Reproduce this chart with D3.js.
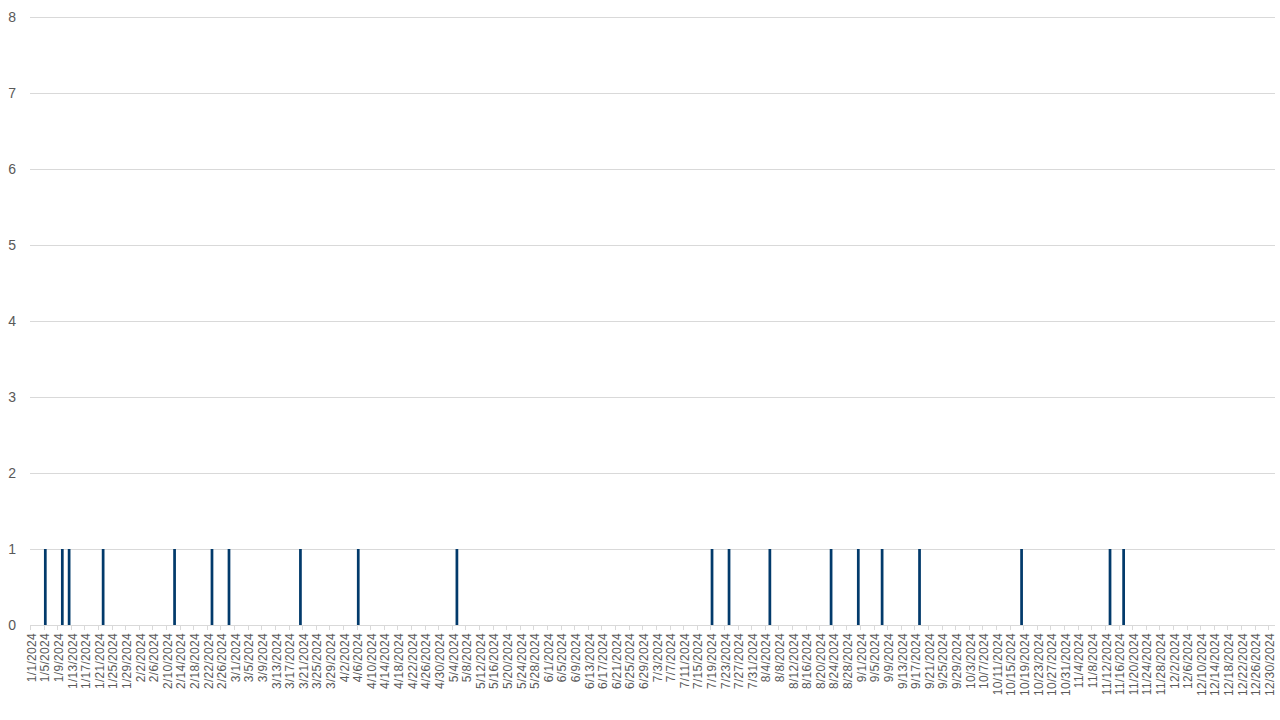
<!DOCTYPE html>
<html>
<head>
<meta charset="utf-8">
<script src="https://cdn.jsdelivr.net/npm/d3@7"></script>
<style>
	body { margin: 0; background: #fff; }
	svg { display: block; }
</style>
</head>
<body>
<div id="chart"></div>
<script>
// Every day of 2024 is a category; only these days have a count
const startDate = "2024-01-01";
const endDate = "2024-12-31";
const eventDates = [
	"2024-01-05", "2024-01-10", "2024-01-12", "2024-01-22", "2024-02-12",
	"2024-02-23", "2024-02-28", "2024-03-20", "2024-04-06", "2024-05-05",
	"2024-07-19", "2024-07-24", "2024-08-05", "2024-08-23", "2024-08-31",
	"2024-09-07", "2024-09-18", "2024-10-18", "2024-11-13", "2024-11-17",
];
const eventCounts = [1, 1, 1, 1, 1, 1, 1, 1, 1, 1, 1, 1, 1, 1, 1, 1, 1, 1, 1, 1];
const yTicks = [0, 1, 2, 3, 4, 5, 6, 7, 8];
const labelEvery = 4;

const WIDTH = 1280;
const HEIGHT = 720;
const MARGIN = { top: 17, right: 5, bottom: 95, left: 30 };

const parse = d3.utcParse("%Y-%m-%d");
const fmt = d3.utcFormat("%-m/%-d/%Y");

const days = d3.utcDay.range(parse(startDate), d3.utcDay.offset(parse(endDate), 1));
const countByDay = new Map(eventDates.map((d, i) => [d, eventCounts[i]]));
const data = days.map((d) => ({
	date: d,
	label: fmt(d),
	value: countByDay.get(d3.utcFormat("%Y-%m-%d")(d)) || 0,
}));

const svg = d3.select("#chart")
	.append("svg")
	.attr("width", WIDTH)
	.attr("height", HEIGHT);

const g = svg.append("g")
	.attr("transform", `translate(${MARGIN.left}, ${MARGIN.top})`);

const innerW = WIDTH - MARGIN.left - MARGIN.right;
const innerH = HEIGHT - MARGIN.top - MARGIN.bottom;

const x = d3.scaleBand()
	.domain(data.map((d) => d.label))
	.range([0, innerW])
	.paddingInner(0.2)
	.paddingOuter(0.1);

const y = d3.scaleLinear()
	.domain([0, 8])
	.range([innerH, 0]);

// gridlines
g.append("g")
	.selectAll("line")
	.data(yTicks.filter((t) => t > 0))
	.join("line")
	.attr("x1", 0)
	.attr("x2", innerW)
	.attr("y1", (d) => Math.round(y(d)) + 0.5)
	.attr("y2", (d) => Math.round(y(d)) + 0.5)
	.attr("stroke", "#d9d9d9")
	.attr("stroke-width", 1);

// y axis labels
const yAxis = g.append("g")
	.call(d3.axisLeft(y).tickValues(yTicks).tickSize(0).tickPadding(14))
	.style("font-family", "'Liberation Sans', Arial, sans-serif")
	.style("font-size", "14px");
yAxis.select(".domain").remove();
yAxis.selectAll("text").attr("fill", "#595959");

// bars
g.append("g")
	.selectAll("rect")
	.data(data.filter((d) => d.value > 0))
	.join("rect")
	.attr("x", (d) => x(d.label))
	.attr("width", x.bandwidth())
	.attr("y", (d) => y(d.value))
	.attr("height", (d) => y(0) - y(d.value))
	.attr("fill", "#023a6b");

// x axis
const step = x.step();
const xAxisG = g.append("g")
	.attr("transform", `translate(0, ${innerH})`);

xAxisG.append("line")
	.attr("x1", 0)
	.attr("x2", innerW)
	.attr("y1", 0.5)
	.attr("y2", 0.5)
	.attr("stroke", "#d9d9d9");

const tickIdx = d3.range(0, data.length + 1, labelEvery);
xAxisG.selectAll("line.tick")
	.data(tickIdx)
	.join("line")
	.attr("class", "tick")
	.attr("x1", (i) => Math.round(i * step) + 0.5)
	.attr("x2", (i) => Math.round(i * step) + 0.5)
	.attr("y1", 0)
	.attr("y2", 5)
	.attr("stroke", "#d9d9d9");

const labelData = data.filter((d, i) => i % labelEvery === 0);
xAxisG.selectAll("text")
	.data(labelData)
	.join("text")
	.attr("transform", (d) => `translate(${x(d.label) + x.bandwidth() / 2 + 4}, 8) rotate(-90)`)
	.attr("text-anchor", "end")
	.attr("fill", "#595959")
	.style("font-family", "'Liberation Sans', Arial, sans-serif")
	.style("font-size", "12px")
	.style("letter-spacing", "0.3px")
	.text((d) => d.label);
</script>
</body>
</html>
